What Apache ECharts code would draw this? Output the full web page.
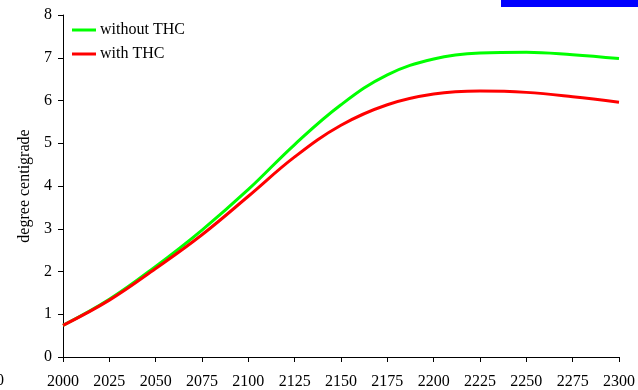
<!DOCTYPE html>
<html>
<head>
<meta charset="utf-8">
<style>html,body{margin:0;padding:0;background:#fff;}#c{width:638px;height:390px;}</style>
<script src="https://cdn.jsdelivr.net/npm/echarts@6/dist/echarts.min.js"></script>
</head>
<body>
<div id="c"></div>
<script>
var years = [2000, 2025, 2050, 2075, 2100, 2125, 2150, 2175, 2200, 2225, 2250, 2275, 2300];
var withoutTHC = [0.74, 1.35, 2.12, 2.97, 3.92, 4.97, 5.9, 6.6, 6.97, 7.11, 7.13, 7.07, 6.98];
var withTHC = [0.74, 1.33, 2.07, 2.86, 3.76, 4.68, 5.42, 5.9, 6.15, 6.22, 6.19, 6.09, 5.96];
var seriesNames = ['without THC', 'with THC'];
var yTitle = 'degree centigrade';

var font = '"Liberation Serif", "Times New Roman", serif';
function pairs(xs, ys) { return xs.map(function (x, i) { return [x, ys[i]]; }); }

var chart = echarts.init(document.getElementById('c'), null, { renderer: 'canvas' });
chart.setOption({
  animation: false,
  backgroundColor: '#ffffff',
  grid: { left: 63, right: 15, top: 15, bottom: 32, containLabel: false },
  legend: {
    orient: 'vertical', left: 72, top: 22, padding: 0,
    itemWidth: 24, itemHeight: 3, itemGap: 8,
    icon: 'rect',
    textStyle: { fontFamily: font, fontSize: 16, color: '#000', padding: [0, 0, 0, -1] },
    data: seriesNames
  },
  xAxis: {
    type: 'value', min: 2000, max: 2300, interval: 25,
    axisLine: { lineStyle: { color: '#000', width: 1 } },
    axisTick: { show: true, length: 5, inside: false, lineStyle: { color: '#000' } },
    axisLabel: { margin: 17, fontFamily: font, fontSize: 16, color: '#000', showMinLabel: true, showMaxLabel: true,
      formatter: function (v) { return String(v); } },
    splitLine: { show: false }
  },
  yAxis: {
    type: 'value', min: 0, max: 8, interval: 1,
    name: yTitle, nameLocation: 'middle', nameGap: 30,
    nameTextStyle: { fontFamily: font, fontSize: 16, color: '#000' },
    axisLine: { show: true, lineStyle: { color: '#000', width: 1 } },
    axisTick: { show: true, length: 5, inside: false, lineStyle: { color: '#000' } },
    axisLabel: { margin: 11, fontFamily: font, fontSize: 16, color: '#000' },
    splitLine: { show: false }
  },
  series: [
    { name: seriesNames[0], type: 'line', smooth: 0.4, symbol: 'none', data: pairs(years, withoutTHC),
      lineStyle: { color: '#00ff00', width: 3 }, itemStyle: { color: '#00ff00' }, z: 2 },
    { name: seriesNames[1], type: 'line', smooth: 0.4, symbol: 'none', data: pairs(years, withTHC),
      lineStyle: { color: '#ff0000', width: 3 }, itemStyle: { color: '#ff0000' }, z: 3 }
  ],
  graphic: [
    { type: 'rect', left: 501, top: 0, shape: { width: 137, height: 7 }, style: { fill: '#0000ff' } },
    { type: 'text', left: -4, top: 373, style: { text: '0', font: '16px ' + font, fill: '#000' } }
  ]
});
</script>
</body>
</html>
